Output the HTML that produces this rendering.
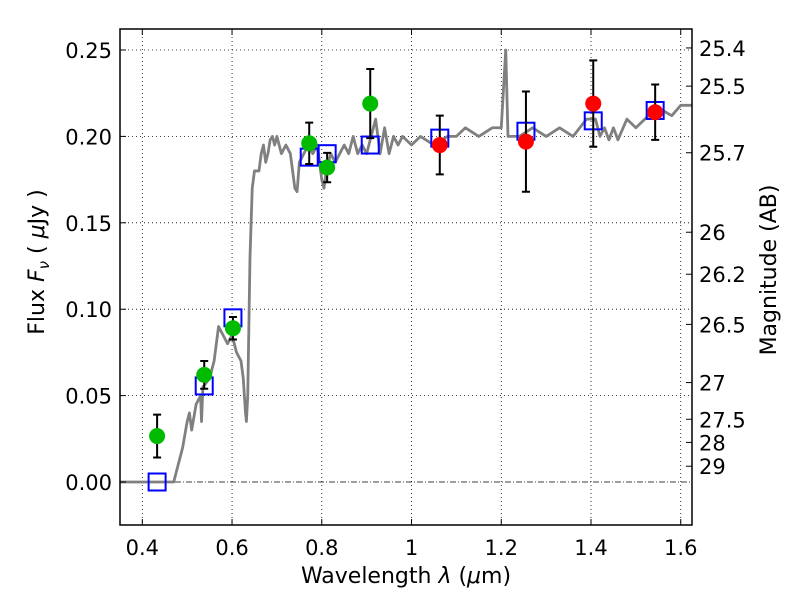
<!DOCTYPE html>
<html><head><meta charset="utf-8"><style>
body{margin:0;background:#fff}
svg text{font-family:"DejaVu Sans","Liberation Sans",sans-serif;fill:#000}
</style></head><body>
<svg id="chart" width="800" height="600" viewBox="0 0 800 600" xmlns="http://www.w3.org/2000/svg">
<rect width="800" height="600" fill="#fff"/>
<g id="grid"></g>
<g id="spec"></g>
<g id="pts"></g>
<g id="axes"></g>
<text x="406" y="583" font-size="22" text-anchor="middle">Wavelength  <tspan font-style="italic">λ</tspan> (<tspan font-style="italic">μ</tspan>m)</text>
<text transform="translate(44,262) rotate(-90)" font-size="22" text-anchor="middle">Flux  <tspan font-style="italic">F</tspan><tspan font-style="italic" font-size="15" dy="5">ν</tspan><tspan dy="-5">  ( </tspan><tspan font-style="italic">μ</tspan>Jy )</text>
<text transform="translate(776,270) rotate(-90)" font-size="22" text-anchor="middle">Magnitude (AB)</text>
</svg>
<script>
const xTicks=[0.4,0.6,0.8,1.0,1.2,1.4,1.6];
const xTickLabels=["0.4","0.6","0.8","1","1.2","1.4","1.6"];
const yTicks=[0,0.05,0.10,0.15,0.20,0.25];
const yTickLabels=["0.00","0.05","0.10","0.15","0.20","0.25"];
const magTicks=[25.4,25.5,25.7,26,26.2,26.5,27,27.5,28,29];
const magLabels=["25.4","25.5","25.7","26","26.2","26.5","27","27.5","28","29"];
const photWave=[0.433,0.538,0.602,0.772,0.812,0.908,1.063,1.255,1.405,1.543];
const photFlux=[0.0266,0.062,0.089,0.196,0.182,0.219,0.195,0.197,0.219,0.214];
const photErr=[0.0124,0.008,0.0065,0.012,0.0085,0.020,0.017,0.029,0.025,0.016];
const photColor=["#00bb00","#00bb00","#00bb00","#00bb00","#00bb00","#00bb00","#ff0000","#ff0000","#ff0000","#ff0000"];
const modelFlux=[0.0,0.0556,0.095,0.188,0.190,0.195,0.199,0.203,0.209,0.215];
const specWave=[0.35,0.47,0.49,0.50,0.505,0.51,0.52,0.53,0.532,0.535,0.55,0.56,0.57,0.58,0.59,0.60,0.61,0.62,0.625,0.63,0.632,0.635,0.64,0.645,0.65,0.66,0.665,0.67,0.675,0.68,0.685,0.69,0.695,0.70,0.71,0.72,0.73,0.74,0.745,0.75,0.76,0.77,0.78,0.79,0.80,0.805,0.81,0.82,0.83,0.84,0.85,0.86,0.87,0.88,0.89,0.90,0.91,0.92,0.93,0.94,0.95,0.96,0.97,0.98,1.0,1.02,1.05,1.08,1.1,1.12,1.15,1.18,1.2,1.21,1.215,1.24,1.27,1.3,1.33,1.36,1.39,1.41,1.42,1.43,1.44,1.45,1.46,1.48,1.5,1.52,1.54,1.56,1.58,1.6,1.625];
const specFlux=[0,0,0.02,0.035,0.04,0.03,0.045,0.05,0.035,0.055,0.06,0.07,0.09,0.085,0.08,0.085,0.075,0.07,0.06,0.04,0.035,0.05,0.13,0.17,0.18,0.18,0.19,0.195,0.185,0.19,0.198,0.2,0.195,0.2,0.19,0.195,0.19,0.17,0.168,0.185,0.19,0.195,0.19,0.195,0.175,0.17,0.18,0.19,0.185,0.19,0.195,0.19,0.2,0.19,0.195,0.19,0.2,0.21,0.19,0.205,0.19,0.2,0.195,0.2,0.195,0.2,0.195,0.2,0.2,0.205,0.2,0.205,0.205,0.25,0.2,0.2,0.205,0.2,0.205,0.2,0.21,0.21,0.2,0.205,0.198,0.205,0.198,0.21,0.205,0.21,0.215,0.215,0.212,0.218,0.218];

const L=120,R=692,T=29,B=525;
const X=v=>142.3+(v-0.4)*448.7;
const Y=v=>482-v*1728;
const magToFlux=m=>Math.pow(10,(23.9-m)/2.5);
const NS="http://www.w3.org/2000/svg";
function mk(parent,tag,attrs){const e=document.createElementNS(NS,tag);for(const k in attrs)e.setAttribute(k,attrs[k]);parent.appendChild(e);return e;}
const grid=document.getElementById('grid'),axes=document.getElementById('axes'),spec=document.getElementById('spec'),pts=document.getElementById('pts');

xTicks.forEach((v,i)=>{
  const g=mk(grid,'line',{x1:X(v),x2:X(v),y1:T,y2:B,stroke:'#000','stroke-width':0.8,'stroke-dasharray':'1,3'});
  
  
  mk(axes,'line',{x1:X(v),x2:X(v),y1:B,y2:B-6,stroke:'#000','stroke-width':1});
  mk(axes,'line',{x1:X(v),x2:X(v),y1:T,y2:T+6,stroke:'#000','stroke-width':1});
  const t=mk(axes,'text',{x:X(v),y:555,'font-size':21,'text-anchor':'middle'});
  t.textContent=xTickLabels[i];
  
  
});
yTicks.forEach((v,i)=>{
  if(v!==0){const g=mk(grid,'line',{x1:L,x2:R,y1:Y(v),y2:Y(v),stroke:'#000','stroke-width':0.8,'stroke-dasharray':'1,3'});
  
  }
  mk(axes,'line',{x1:L,x2:L+6,y1:Y(v),y2:Y(v),stroke:'#000','stroke-width':1});
  const t=mk(axes,'text',{x:112,y:Y(v)+8,'font-size':21,'text-anchor':'end'});
  t.textContent=yTickLabels[i];
  
  
});
const z=mk(grid,'line',{x1:L,x2:R,y1:Y(0),y2:Y(0),stroke:'#000','stroke-width':0.8,'stroke-dasharray':'6,2,1,2'});


magTicks.forEach((m,i)=>{
  const y=Y(magToFlux(m));
  mk(axes,'line',{x1:R,x2:R-6,y1:y,y2:y,stroke:'#000','stroke-width':1});
  const t=mk(axes,'text',{x:699,y:y+8,'font-size':21});
  t.textContent=magLabels[i];
  
  
});
const fr=mk(axes,'rect',{x:L,y:T,width:R-L,height:B-T,fill:'none',stroke:'#000','stroke-width':1.5});



const p=mk(spec,'polyline',{points:specWave.map((w,i)=>X(w)+','+Y(specFlux[i])).join(' '),fill:'none',stroke:'#808080','stroke-width':2.8,'stroke-linejoin':'round'});



photWave.forEach((w,i)=>{
  const x=X(w);
  const s=mk(pts,'rect',{x:x-8.5,y:Y(modelFlux[i])-8.5,width:17,height:17,fill:'none',stroke:'#0000ff','stroke-width':2});
  
  
});
photWave.forEach((w,i)=>{
  const x=X(w),y1=Y(photFlux[i]+photErr[i]),y2=Y(photFlux[i]-photErr[i]);
  const eb=mk(pts,'path',{d:`M${x},${y1}V${y2}M${x-4},${y1}H${x+4}M${x-4},${y2}H${x+4}`,stroke:'#000','stroke-width':2,fill:'none'});
  
  
  const c=mk(pts,'circle',{cx:x,cy:Y(photFlux[i]),r:8,fill:photColor[i]});
  
  
});
</script>
</body></html>
